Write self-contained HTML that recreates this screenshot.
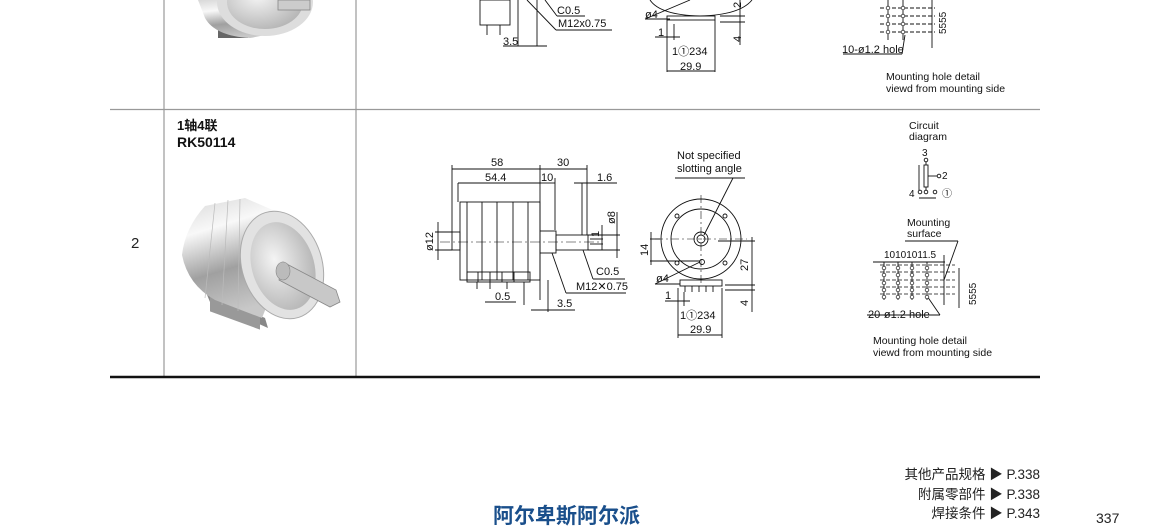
<!DOCTYPE html>
<html><head><meta charset="utf-8"><style>
html,body{margin:0;padding:0;background:#fff;}
svg{display:block;font-family:"Liberation Sans","Noto Sans CJK SC",sans-serif;}
</style></head><body>
<svg width="1150" height="529" viewBox="0 0 1150 529" xmlns="http://www.w3.org/2000/svg">
<defs>
<linearGradient id="cyl" x1="0" y1="0" x2="0.3" y2="1">
<stop offset="0" stop-color="#d8d8d8"/><stop offset="0.3" stop-color="#f8f8f8"/><stop offset="0.65" stop-color="#a0a0a0"/><stop offset="1" stop-color="#c8c8c8"/></linearGradient>
<radialGradient id="face" cx="0.4" cy="0.4" r="0.7"><stop offset="0" stop-color="#f4f4f4"/><stop offset="1" stop-color="#b0b0b0"/></radialGradient>
</defs>
<g stroke="#999" stroke-width="1.2">
<line x1="164" y1="0" x2="164" y2="376"/>
<line x1="356" y1="0" x2="356" y2="376"/>
<line x1="110" y1="109.5" x2="1040" y2="109.5"/>
</g>
<line x1="110" y1="377" x2="1040" y2="377" stroke="#111" stroke-width="2.5"/>
<text x="131" y="248" font-size="15" fill="#222">2</text>
<text x="177" y="130" font-size="13" font-weight="bold" fill="#111">1轴4联</text>
<text x="177" y="147" font-size="14" font-weight="bold" fill="#111">RK50114</text>

<!-- top photo (partial) -->
<g>
<rect x="218" y="15" width="30" height="23" fill="#666"/>
<path d="M198 0 L300 0 Q300 30 250 38 Q215 36 205 18 Z" fill="url(#cyl)"/>
<ellipse cx="265" cy="2" rx="48" ry="34" fill="#ddd"/>
<ellipse cx="265" cy="2" rx="38" ry="27" fill="url(#face)"/>
<rect x="278" y="0" width="32" height="10" fill="#ccc" stroke="#888" stroke-width="0.8"/>
</g>

<!-- row2 photo -->
<g>
<path d="M205 290 L265 318 L268 328 L210 302 Z" fill="#888"/>
<rect x="210" y="285" width="50" height="30" fill="#999" transform="skewY(20) translate(0 -80)"/>
<path d="M205 206 Q185 228 182 255 Q188 285 215 300 L262 318 L300 222 L245 198 Z" fill="url(#cyl)"/>
<g stroke="#bbb" stroke-width="0.7"><line x1="215" y1="203" x2="205" y2="298"/><line x1="228" y1="200" x2="222" y2="305"/><line x1="240" y1="199" x2="238" y2="311"/></g>
<ellipse cx="282" cy="265" rx="40" ry="55" transform="rotate(-18 282 265)" fill="#e2e2e2" stroke="#aaa"/>
<ellipse cx="283" cy="266" rx="31" ry="45" transform="rotate(-18 283 266)" fill="url(#face)"/>
<path d="M283 262 L336 290 L340 302 L330 307 L279 280 Z" fill="#c8c8c8" stroke="#888" stroke-width="0.8"/>
<ellipse cx="283" cy="271" rx="7" ry="9" fill="#bbb" stroke="#888" stroke-width="0.6"/>
</g>

<g stroke="#111" stroke-width="0.9" fill="none">
<rect x="480" y="0" width="30" height="25"/>
<line x1="487" y1="25" x2="487" y2="35"/><line x1="500" y1="25" x2="500" y2="35"/>
<line x1="518" y1="0" x2="518" y2="46"/><line x1="537" y1="0" x2="537" y2="46"/>
<line x1="503" y1="46" x2="547" y2="46"/>
<line x1="527" y1="0" x2="556" y2="30"/><line x1="556" y1="30" x2="612" y2="30"/>
<line x1="545" y1="0" x2="557" y2="16"/><line x1="557" y1="16" x2="585" y2="16"/>
<path d="M650 0 Q660 15 700 16 Q740 15 752 0"/>
<rect x="667" y="16" width="48" height="4"/>
<line x1="645" y1="19" x2="690" y2="0"/><line x1="645" y1="19" x2="670" y2="19"/>
<line x1="667" y1="20" x2="667" y2="72"/><line x1="715" y1="20" x2="715" y2="72"/>
<line x1="667" y1="71" x2="715" y2="71"/>
<line x1="655" y1="37" x2="680" y2="37"/><line x1="674" y1="24" x2="674" y2="40"/>
<line x1="720" y1="16" x2="745" y2="16"/><line x1="720" y1="22" x2="745" y2="22"/><line x1="740" y1="0" x2="740" y2="45"/>
<line x1="880" y1="8" x2="935" y2="8" stroke-dasharray="4 2"/>
<line x1="880" y1="16" x2="935" y2="16" stroke-dasharray="4 2"/>
<line x1="880" y1="24" x2="935" y2="24" stroke-dasharray="4 2"/>
<line x1="880" y1="32" x2="935" y2="32" stroke-dasharray="4 2"/>
<line x1="888" y1="0" x2="888" y2="40"/><line x1="903" y1="0" x2="903" y2="40"/>
<line x1="932" y1="0" x2="932" y2="48"/>
<line x1="843" y1="54" x2="902" y2="54"/><line x1="902" y1="54" x2="905" y2="35"/>

<rect x="460" y="202" width="80" height="78"/>
<line x1="467" y1="202" x2="467" y2="280"/><line x1="482" y1="202" x2="482" y2="280"/>
<line x1="497" y1="202" x2="497" y2="280"/><line x1="513" y1="202" x2="513" y2="280"/>
<line x1="528" y1="202" x2="528" y2="280"/>
<rect x="452" y="232" width="8" height="18"/>
<rect x="540" y="231" width="16" height="22"/>
<rect x="556" y="235" width="32" height="15"/>
<rect x="467" y="272" width="63" height="10"/>
<line x1="478" y1="272" x2="478" y2="282"/><line x1="490" y1="272" x2="490" y2="282"/><line x1="502" y1="272" x2="502" y2="282"/><line x1="514" y1="272" x2="514" y2="282"/>
<line x1="477" y1="282" x2="477" y2="289"/><line x1="490" y1="282" x2="490" y2="289"/><line x1="507" y1="282" x2="507" y2="289"/><line x1="524" y1="282" x2="524" y2="289"/>
<line x1="440" y1="242" x2="600" y2="242" stroke-dasharray="10 3 2 3" stroke-width="0.6"/>
<line x1="452" y1="165" x2="452" y2="232"/><line x1="540" y1="165" x2="540" y2="300"/>
<line x1="587" y1="165" x2="587" y2="235"/><line x1="555" y1="178" x2="555" y2="230"/>
<line x1="458" y1="183" x2="458" y2="202"/><line x1="582" y1="183" x2="582" y2="235"/>
<line x1="452" y1="169" x2="587" y2="169"/><line x1="458" y1="183" x2="540" y2="183"/>
<line x1="540" y1="183" x2="555" y2="183"/><line x1="574" y1="183" x2="617" y2="183"/>
<line x1="435" y1="232" x2="452" y2="232"/><line x1="435" y1="250" x2="452" y2="250"/><line x1="438" y1="222" x2="438" y2="260"/>
<line x1="588" y1="235" x2="620" y2="235"/><line x1="588" y1="250" x2="620" y2="250"/><line x1="617" y1="212" x2="617" y2="258"/>
<line x1="590" y1="239" x2="603" y2="239"/><line x1="590" y1="244" x2="603" y2="244"/><line x1="602" y1="225" x2="602" y2="250"/>
<line x1="583" y1="250" x2="593" y2="279"/><line x1="593" y1="279" x2="625" y2="279"/>
<line x1="552" y1="253" x2="566" y2="293"/><line x1="566" y1="293" x2="626" y2="293"/>
<line x1="485" y1="302" x2="516" y2="302"/><line x1="524" y1="289" x2="524" y2="305"/>
<line x1="531" y1="310" x2="575" y2="310"/><line x1="548" y1="280" x2="548" y2="312"/>

<circle cx="701" cy="239" r="40"/>
<circle cx="701" cy="239" r="30"/>
<circle cx="701" cy="239" r="7"/><circle cx="701" cy="239" r="4"/>
<circle cx="677" cy="216" r="2"/><circle cx="725" cy="216" r="2"/><circle cx="677" cy="263" r="2"/><circle cx="725" cy="263" r="2"/>
<circle cx="702" cy="262" r="2.5"/>
<line x1="655" y1="239" x2="747" y2="239" stroke-dasharray="8 3 2 3" stroke-width="0.6"/>
<line x1="701" y1="195" x2="701" y2="285" stroke-dasharray="8 3 2 3" stroke-width="0.6"/>
<rect x="680" y="280" width="42" height="6"/>
<line x1="685" y1="286" x2="685" y2="292"/><line x1="692" y1="286" x2="692" y2="292"/><line x1="699" y1="286" x2="699" y2="292"/><line x1="706" y1="286" x2="706" y2="292"/><line x1="713" y1="286" x2="713" y2="292"/>
<line x1="675" y1="178" x2="745" y2="178"/><line x1="733" y1="178" x2="704" y2="235"/>
<line x1="650" y1="239" x2="660" y2="239"/><line x1="650" y1="261" x2="700" y2="261"/><line x1="651" y1="232" x2="651" y2="265"/>
<line x1="718" y1="241" x2="755" y2="241"/><line x1="725" y1="285" x2="755" y2="285"/><line x1="725" y1="290" x2="755" y2="290"/><line x1="752" y1="237" x2="752" y2="312"/>
<line x1="655" y1="284" x2="700" y2="262"/><line x1="655" y1="284" x2="680" y2="284"/>
<line x1="665" y1="301" x2="690" y2="301"/><line x1="684" y1="292" x2="684" y2="306"/>
<line x1="678" y1="288" x2="678" y2="338"/><line x1="722" y1="288" x2="722" y2="338"/><line x1="678" y1="335" x2="722" y2="335"/>

<circle cx="926" cy="160" r="1.8"/>
<line x1="926" y1="162" x2="926" y2="165"/>
<rect x="924" y="165" width="4" height="22"/>
<line x1="919" y1="165" x2="919" y2="190"/>
<line x1="928" y1="176" x2="937" y2="176"/><circle cx="939" cy="176" r="1.8"/>
<circle cx="920" cy="192" r="1.8"/><circle cx="926" cy="192" r="1.8"/><circle cx="935" cy="192" r="1.8"/>
<line x1="926" y1="187" x2="926" y2="190"/><line x1="919" y1="198" x2="936" y2="198"/>
<g stroke-dasharray="4 2" stroke-width="0.7">
<line x1="880" y1="265" x2="955" y2="265"/><line x1="880" y1="272" x2="955" y2="272"/>
<line x1="880" y1="280" x2="955" y2="280"/><line x1="880" y1="287" x2="955" y2="287"/>
<line x1="880" y1="294" x2="955" y2="294"/>
</g>
<line x1="873" y1="262" x2="945" y2="262"/>
<line x1="884" y1="262" x2="884" y2="300"/><line x1="898" y1="262" x2="898" y2="300"/>
<line x1="912" y1="262" x2="912" y2="300"/><line x1="927" y1="262" x2="927" y2="300"/>
<line x1="944" y1="255" x2="944" y2="305"/>
<line x1="944" y1="280" x2="958" y2="241"/><line x1="905" y1="241" x2="958" y2="241"/>
<line x1="959" y1="268" x2="959" y2="308"/>
<line x1="867" y1="315" x2="940" y2="315"/><line x1="940" y1="315" x2="927" y2="296"/>
</g>
<g fill="#fff" stroke="#333" stroke-width="0.8">
<circle cx="884" cy="268" r="1.8"/><circle cx="898" cy="268" r="1.8"/><circle cx="912" cy="268" r="1.8"/><circle cx="927" cy="268" r="1.8"/>
<circle cx="884" cy="275" r="1.8"/><circle cx="898" cy="275" r="1.8"/><circle cx="912" cy="275" r="1.8"/><circle cx="927" cy="275" r="1.8"/>
<circle cx="884" cy="283" r="1.8"/><circle cx="898" cy="283" r="1.8"/><circle cx="912" cy="283" r="1.8"/><circle cx="927" cy="283" r="1.8"/>
<circle cx="884" cy="290" r="1.8"/><circle cx="898" cy="290" r="1.8"/><circle cx="912" cy="290" r="1.8"/><circle cx="927" cy="290" r="1.8"/>
<circle cx="884" cy="297" r="1.8"/><circle cx="898" cy="297" r="1.8"/><circle cx="912" cy="297" r="1.8"/><circle cx="927" cy="297" r="1.8"/>
<circle cx="888" cy="8" r="1.8"/><circle cx="903" cy="8" r="1.8"/><circle cx="888" cy="16" r="1.8"/><circle cx="903" cy="16" r="1.8"/>
<circle cx="888" cy="24" r="1.8"/><circle cx="903" cy="24" r="1.8"/><circle cx="888" cy="32" r="1.8"/><circle cx="903" cy="32" r="1.8"/>
</g>

<g font-size="11" fill="#111">
<text x="557" y="14">C0.5</text>
<text x="558" y="27">M12x0.75</text>
<text x="503" y="45">3.5</text>
<text x="645" y="18">ø4</text>
<text x="658" y="36">1</text>
<text x="672" y="55">1①234</text>
<text x="680" y="70">29.9</text>
<text x="741" y="42" transform="rotate(-90 741 42)">4</text>
<text x="741" y="8" transform="rotate(-90 741 8)">2</text>
<text x="946" y="34" transform="rotate(-90 946 34)" font-size="10">5555</text>
<text x="842" y="53">10-ø1.2 hole</text>
<text x="886" y="80" font-size="10.5">Mounting hole detail</text>
<text x="886" y="92" font-size="10.5">viewd from mounting side</text>
<text x="491" y="166">58</text>
<text x="557" y="166">30</text>
<text x="485" y="181">54.4</text>
<text x="541" y="181">10</text>
<text x="597" y="181">1.6</text>
<text x="677" y="159">Not specified</text>
<text x="677" y="172">slotting angle</text>
<text x="433" y="251" transform="rotate(-90 433 251)">ø12</text>
<text x="615" y="224" transform="rotate(-90 615 224)">ø8</text>
<text x="599" y="237" transform="rotate(-90 599 237)">1</text>
<text x="596" y="275">C0.5</text>
<text x="576" y="290">M12✕0.75</text>
<text x="495" y="300">0.5</text>
<text x="557" y="307">3.5</text>
<text x="648" y="256" transform="rotate(-90 648 256)">14</text>
<text x="748" y="271" transform="rotate(-90 748 271)">27</text>
<text x="748" y="306" transform="rotate(-90 748 306)">4</text>
<text x="656" y="282">ø4</text>
<text x="665" y="299">1</text>
<text x="680" y="319">1①234</text>
<text x="690" y="333">29.9</text>
<text x="909" y="129" font-size="10.5">Circuit</text>
<text x="909" y="140" font-size="10.5">diagram</text>
<text x="922" y="156" font-size="10">3</text>
<text x="942" y="179" font-size="10">2</text>
<text x="909" y="197" font-size="10">4</text>
<text x="942" y="197" font-size="10">①</text>
<text x="907" y="226" font-size="10.5">Mounting</text>
<text x="907" y="237" font-size="10.5">surface</text>
<text x="884" y="258" font-size="10">10101011.5</text>
<text x="976" y="305" transform="rotate(-90 976 305)" font-size="10">5555</text>
<text x="868" y="318">20-ø1.2 hole</text>
<text x="873" y="344" font-size="10.5">Mounting hole detail</text>
<text x="873" y="356" font-size="10.5">viewd from mounting side</text>
</g>

<g font-size="13.5" fill="#222">
<text x="1040" y="479" text-anchor="end">其他产品规格 ▶ P.338</text>
<text x="1040" y="499" text-anchor="end">附属零部件 ▶ P.338</text>
<text x="1040" y="518" text-anchor="end">焊接条件 ▶ P.343</text>
<text x="1096" y="523" font-size="14">337</text>
</g>
<text x="493" y="523" font-size="21" font-weight="bold" fill="#1a4f8b">阿尔卑斯阿尔派</text>
</svg>
</body></html>
